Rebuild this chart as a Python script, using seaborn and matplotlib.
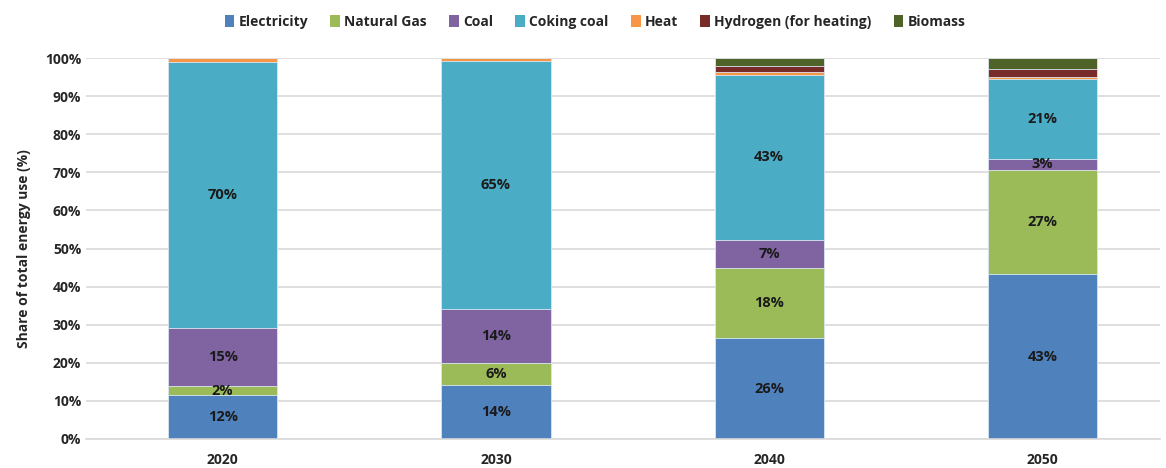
import matplotlib
matplotlib.use("Agg")
import matplotlib.pyplot as plt
import numpy as np
import pandas as pd
import seaborn as sns
from matplotlib.patches import Patch

# shares of total energy use (%) per year
years = ["2020", "2030", "2040", "2050"]
electricity = [11.6, 14.2, 26.4, 43.3]
natural_gas = [2.2, 5.8, 18.4, 27.4]
coal = [15.3, 14.2, 7.4, 2.9]
coking_coal = [69.9, 64.9, 43.4, 21.0]
heat = [1.0, 0.9, 0.7, 0.4]
hydrogen = [0.0, 0.0, 1.5, 2.1]
biomass = [0.0, 0.0, 2.2, 2.9]

names = ["Electricity", "Natural Gas", "Coal", "Coking coal", "Heat",
         "Hydrogen (for heating)", "Biomass"]
series = [electricity, natural_gas, coal, coking_coal, heat, hydrogen, biomass]
colors = ["#4F81BD", "#9BBB59", "#8064A2", "#4BACC6", "#F79646", "#772C2A", "#4F6228"]
labelled = ["Electricity", "Natural Gas", "Coal", "Coking coal"]

df = pd.DataFrame(dict(zip(names, series)), index=years)
cum = df.cumsum(axis=1)

sns.set_theme(style="white")
plt.rcParams["font.family"] = ["Open Sans", "DejaVu Sans"]
plt.rcParams["font.weight"] = "bold"

fig = plt.figure(figsize=(11.66, 4.68), dpi=100)
ax = fig.add_axes([86 / 1166, 1 - 439 / 468, (1160 - 86) / 1166, (439 - 58) / 468])

# overlay cumulative totals from the top layer down -> stacked bars
for name, col in reversed(list(zip(names, colors))):
    sns.barplot(x=years, y=cum[name].values, color=col, width=0.4, saturation=1,
                edgecolor="#dce8f2", linewidth=0.6, ax=ax, zorder=2)

# segment labels
for name in labelled:
    for i, yr in enumerate(years):
        v = df.loc[yr, name]
        ax.text(i, cum.loc[yr, name] - v / 2, f"{v:.0f}%", ha="center", va="center",
                fontsize=10.5, fontweight="bold", color="#1a1a1a", zorder=3)

ax.set_ylim(0, 100)
ax.set_xlim(-0.5, 3.43)
ax.set_yticks(np.arange(0, 101, 10))
ax.set_yticklabels([f"{t}%" for t in range(0, 101, 10)], fontsize=10, fontweight="bold")
ax.tick_params(axis="x", labelsize=10, pad=10)
for t in ax.get_xticklabels():
    t.set_fontweight("bold")
ax.yaxis.grid(True, color="#d9d9d9", linewidth=1.2, zorder=0)
ax.set_axisbelow(True)
for s in ["top", "right", "left"]:
    ax.spines[s].set_visible(False)
ax.spines["bottom"].set_color("#d9d9d9")
ax.spines["bottom"].set_linewidth(1.2)
ax.tick_params(axis="both", length=0)
ax.set_xlabel("")
ax.set_ylabel("Share of total energy use (%)", fontsize=10, fontweight="bold", labelpad=10)

handles = [Patch(facecolor=c, edgecolor="none") for c in colors]
fig.legend(handles, names, loc="center", bbox_to_anchor=(595 / 1166, 1 - 22 / 468), ncol=7,
           frameon=False, handlelength=0.7, handleheight=0.9,
           handletextpad=0.3, columnspacing=1.6, prop={"weight": "bold", "size": 10})

fig.savefig("out.png", dpi=100)
